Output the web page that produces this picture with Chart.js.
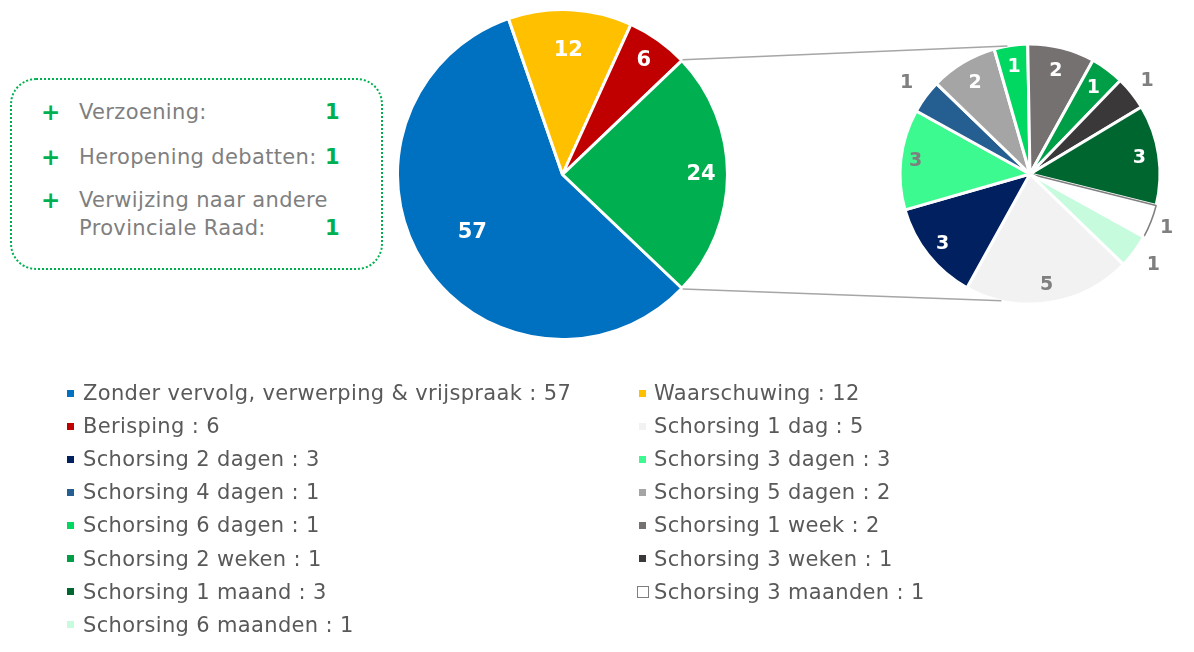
<!DOCTYPE html>
<html><head><meta charset="utf-8">
<script src="https://cdn.jsdelivr.net/npm/chart.js@4.4.0/dist/chart.umd.min.js"></script>
<style>
html,body{margin:0;padding:0;background:#fff;width:1194px;height:652px;overflow:hidden;font-family:"DejaVu Sans",Verdana,sans-serif;}
#c1{position:absolute;left:396px;top:8px;}
#c2{position:absolute;left:865px;top:9px;}
#ov{position:absolute;left:0;top:0;pointer-events:none;}
.box{position:absolute;left:10px;top:78px;width:369px;height:188px;border:2.5px dotted #00b050;border-radius:26px;}
.bx{position:absolute;font-size:21px;letter-spacing:0.35px;color:#7f7f7f;line-height:28px;white-space:nowrap;}
.plus{position:absolute;font-size:23px;font-weight:bold;color:#00b050;line-height:28px;}
.val{position:absolute;font-size:21px;font-weight:bold;color:#00b050;line-height:28px;}
.lg{position:absolute;font-size:21px;letter-spacing:0.35px;color:#595959;line-height:26px;white-space:nowrap;}
.sw{position:absolute;width:7px;height:7px;}
</style></head>
<body>
<div class="box"></div>
<div id="extras"></div>
<canvas id="c1" width="333" height="333"></canvas>
<canvas id="c2" width="330" height="330"></canvas>
<canvas id="ov" width="1194" height="652"></canvas>
<div id="legend"></div>
<script>
// ---- data ----
const mainLabels = ["Zonder vervolg, verwerping & vrijspraak", "Waarschuwing", "Berisping", "Schorsing"];
const mainValues = [57, 12, 6, 24];
const subLabels = ["Schorsing 1 dag", "Schorsing 2 dagen", "Schorsing 3 dagen", "Schorsing 4 dagen",
  "Schorsing 5 dagen", "Schorsing 6 dagen", "Schorsing 1 week", "Schorsing 2 weken",
  "Schorsing 3 weken", "Schorsing 1 maand", "Schorsing 3 maanden", "Schorsing 6 maanden"];
const subValues = [5, 3, 3, 1, 2, 1, 2, 1, 1, 3, 1, 1];
const extraLabels = ["Verzoening:", "Heropening debatten:", "Verwijzing naar andere\nProvinciale Raad:"];
const extraValues = [1, 1, 1];

// ---- styles ----
const mainColors = ["#0070c0", "#ffc000", "#c00000", "#00b050"];
const subColors = ["#f2f2f2", "#002060", "#3cfa8f", "#255e91", "#a5a5a5", "#00d862",
  "#767171", "#009e47", "#3a3838", "#00662f", "#ffffff", "#c6fcdd"];
const mainLabelRadius = [0.65, 0.75, 0.85, 0.84];
const mainLabelColors = ["#fff", "#fff", "#fff", "#fff"];
const subLabelRadius = [0.86, 0.86, 0.885, 1.18, 0.82, 0.83, 0.82, 0.82, 1.15, 0.85, 1.13, 1.18];
const subLabelColors = ["#7f7f7f", "#fff", "#7f7f7f", "#7f7f7f", "#fff", "#fff", "#fff", "#fff", "#7f7f7f", "#fff", "#7f7f7f", "#7f7f7f"];

const labelPlugin = {
  id: 'sliceLabels',
  afterDatasetsDraw(chart, args, opts) {
    const ctx = chart.ctx;
    const meta = chart.getDatasetMeta(0);
    const ds = chart.data.datasets[0];
    meta.data.forEach((arc, i) => {
      const p = arc.getProps(['x', 'y', 'startAngle', 'endAngle', 'outerRadius'], true);
      const mid = (p.startAngle + p.endAngle) / 2;
      const rr = p.outerRadius * opts.radius[i];
      ctx.save();
      ctx.font = opts.font;
      ctx.fillStyle = opts.colors[i];
      ctx.textAlign = 'center';
      ctx.textBaseline = 'middle';
      ctx.fillText(String(ds.data[i]), p.x + Math.cos(mid) * rr, p.y + Math.sin(mid) * rr);
      ctx.restore();
    });
  }
};

const common = {
  responsive: false, animation: false,
  plugins: { legend: { display: false }, tooltip: { enabled: false } },
  events: []
};

const chart1 = new Chart(document.getElementById('c1'), {
  type: 'pie',
  data: { labels: mainLabels, datasets: [{ data: mainValues, backgroundColor: mainColors, borderColor: '#fff', borderWidth: 3, hoverOffset: 0 }] },
  options: Object.assign({}, common, {
    rotation: 133.6,
    layout: { padding: 0 },
    plugins: Object.assign({}, common.plugins, { sliceLabels: { font: 'bold 21px "DejaVu Sans"', radius: mainLabelRadius, colors: mainLabelColors } })
  }),
  plugins: [labelPlugin]
});

const subBorder = subValues.map((v, i) => i === 10 ? '#7f7f7f' : '#fff');
const subBorderW = subValues.map((v, i) => i === 10 ? 1.5 : 3);
const chart2 = new Chart(document.getElementById('c2'), {
  type: 'pie',
  data: { labels: subLabels, datasets: [{ data: subValues, backgroundColor: subColors, borderColor: subBorder, borderWidth: subBorderW, hoverOffset: 0 }] },
  options: Object.assign({}, common, {
    rotation: 134,
    layout: { padding: 33.5 },
    plugins: Object.assign({}, common.plugins, { sliceLabels: { font: 'bold 19px "DejaVu Sans"', radius: subLabelRadius, colors: subLabelColors } })
  }),
  plugins: [labelPlugin]
});

// connector lines
(function () {
  const ov = document.getElementById('ov').getContext('2d');
  const r1 = document.getElementById('c1').getBoundingClientRect();
  const r2 = document.getElementById('c2').getBoundingClientRect();
  const a = chart1.getDatasetMeta(0).data[3];
  const b = chart2.getDatasetMeta(0).data[0];
  const ends = [[a.startAngle, -100], [a.endAngle, 102.7]];
  ov.strokeStyle = '#a6a6a6';
  ov.lineWidth = 1.5;
  ends.forEach(([sa, deg]) => {
    const t = deg * Math.PI / 180;
    ov.beginPath();
    ov.moveTo(r1.left + a.x + Math.cos(sa) * (a.outerRadius + 1), r1.top + a.y + Math.sin(sa) * (a.outerRadius + 1));
    ov.lineTo(r2.left + b.x + Math.cos(t) * b.outerRadius, r2.top + b.y + Math.sin(t) * b.outerRadius);
    ov.stroke();
  });
})();

// extras box
(function () {
  const host = document.getElementById('extras');
  const tops = [98, 143, 186];
  extraLabels.forEach((lab, i) => {
    const lines = lab.split('\n');
    const pl = document.createElement('div'); pl.className = 'plus'; pl.textContent = '+';
    pl.style.left = '41px'; pl.style.top = tops[i] + 'px'; host.appendChild(pl);
    lines.forEach((ln, j) => {
      const d = document.createElement('div'); d.className = 'bx'; d.textContent = ln;
      d.style.left = '79px'; d.style.top = (tops[i] + j * 28) + 'px'; host.appendChild(d);
    });
    const v = document.createElement('div'); v.className = 'val'; v.textContent = extraValues[i];
    v.style.left = '325px'; v.style.top = (tops[i] + (lines.length - 1) * 28) + 'px'; host.appendChild(v);
  });
})();

// legend
(function () {
  const host = document.getElementById('legend');
  const items = [];
  mainLabels.slice(0, 3).forEach((l, i) => items.push([l, mainValues[i], mainColors[i]]));
  subLabels.forEach((l, i) => items.push([l, subValues[i], subColors[i]]));
  items.forEach((it, k) => {
    const col = k % 2, row = Math.floor(k / 2);
    const cy = 393 + row * 33.1;
    const tx = col === 0 ? 83 : 654;
    const sx = col === 0 ? 67 : 639;
    const sw = document.createElement('div'); sw.className = 'sw';
    if (it[2].toLowerCase() === '#ffffff') {
      sw.style.width = '10px'; sw.style.height = '10px'; sw.style.border = '1px solid #7f7f7f'; sw.style.background = '#fff';
      sw.style.left = (sx - 2) + 'px'; sw.style.top = (cy - 6) + 'px';
    } else {
      sw.style.background = it[2]; sw.style.left = sx + 'px'; sw.style.top = (cy - 3.5) + 'px';
    }
    host.appendChild(sw);
    const t = document.createElement('div'); t.className = 'lg';
    t.textContent = it[0] + ' : ' + it[1];
    t.style.left = tx + 'px'; t.style.top = (cy - 13) + 'px';
    host.appendChild(t);
  });
})();
</script>
</body></html>
